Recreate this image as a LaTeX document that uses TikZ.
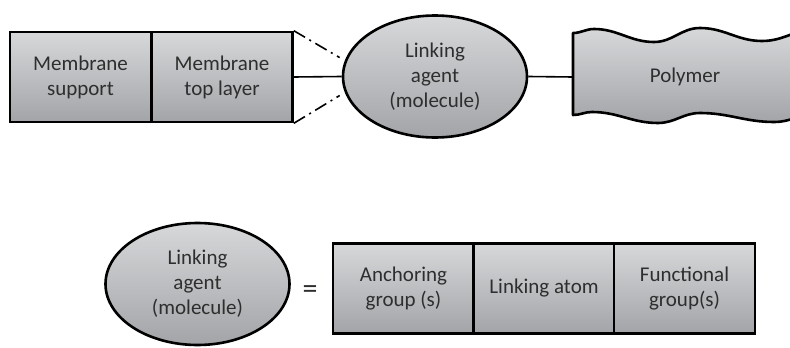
\documentclass[tikz,border=0pt]{standalone}
\usepackage{fontspec}
\setmainfont{Carlito}
\usetikzlibrary{shapes.geometric}
\definecolor{shtop}{HTML}{D7D8DA}
\definecolor{shbot}{HTML}{A3A4A7}
\definecolor{txt}{HTML}{2E2E2E}
\tikzset{
  gfill/.style={top color=shtop, bottom color=shbot},
  cell/.style={gfill, draw=black, line width=2.6pt, rectangle, minimum width=141pt, minimum height=90pt, inner sep=0pt, align=center, text=txt, font=\fontsize{21}{25}\selectfont},
  blob/.style={gfill, draw=black, line width=2.6pt, ellipse, minimum width=184pt, minimum height=122pt, inner sep=0pt, align=center, text=txt, font=\fontsize{21}{25}\selectfont},
  link/.style={draw=black, line width=1.6pt},
  dashdot/.style={draw=black, line width=1.6pt, dash pattern=on 13pt off 5pt on 2pt off 5pt, shorten >=6pt},
  lbl/.style={inner sep=0pt, align=center, text=txt, font=\fontsize{21}{25}\selectfont}
}
\begin{document}
\begin{tikzpicture}[x=1pt,y=-1pt]
\useasboundingbox (0,0) rectangle (790,348);
% top row
\node[cell] (ms) at (80.5,77) {Membrane\\support};
\node[cell] (mt) at (222,77) {Membrane\\top layer};
\node[blob] (la) at (435,76.5) {Linking\\agent\\(molecule)};
% polymer
\begin{scope}
\clip (0,0) rectangle (790,348);
\path[gfill, draw=black, line width=2.6pt, line join=round]
  (573,33) to[out=0,in=180] (594,29) to[out=0,in=180] (654,42)
  to[out=0,in=180] (700,28) to[out=0,in=180] (762,41)
  to[out=0,in=180] (820,28) -- (830,28) -- (830,112)
  -- (822,112) to[out=180,in=0] (774,122) to[out=180,in=0] (700,113)
  to[out=180,in=0] (658,123) to[out=180,in=0] (592,112)
  to[out=180,in=0] (573,115) -- cycle;
\end{scope}
\node[lbl] (po) at (685,77) {Polymer};
\coordinate (pl) at (573,77);
% connectors
\draw[link] (mt.east) -- (la.west);
\draw[dashdot] (mt.north east) -- (la.170);
\draw[dashdot] (mt.south east) -- (la.190);
\draw[link] (la.east) -- (pl);
% bottom row
\node[blob] (lb) at (197.5,284) {Linking\\agent\\(molecule)};
\node[lbl, font=\fontsize{30}{30}\selectfont] (eq) at (310,292) {=};
\node[cell] (ag) at (403.5,288.5) {Anchoring\\group (s)};
\node[cell] (lk) at (544,288.5) {Linking atom};
\node[cell] (fg) at (684.5,288.5) {Functional\\group(s)};
\end{tikzpicture}
\end{document}
